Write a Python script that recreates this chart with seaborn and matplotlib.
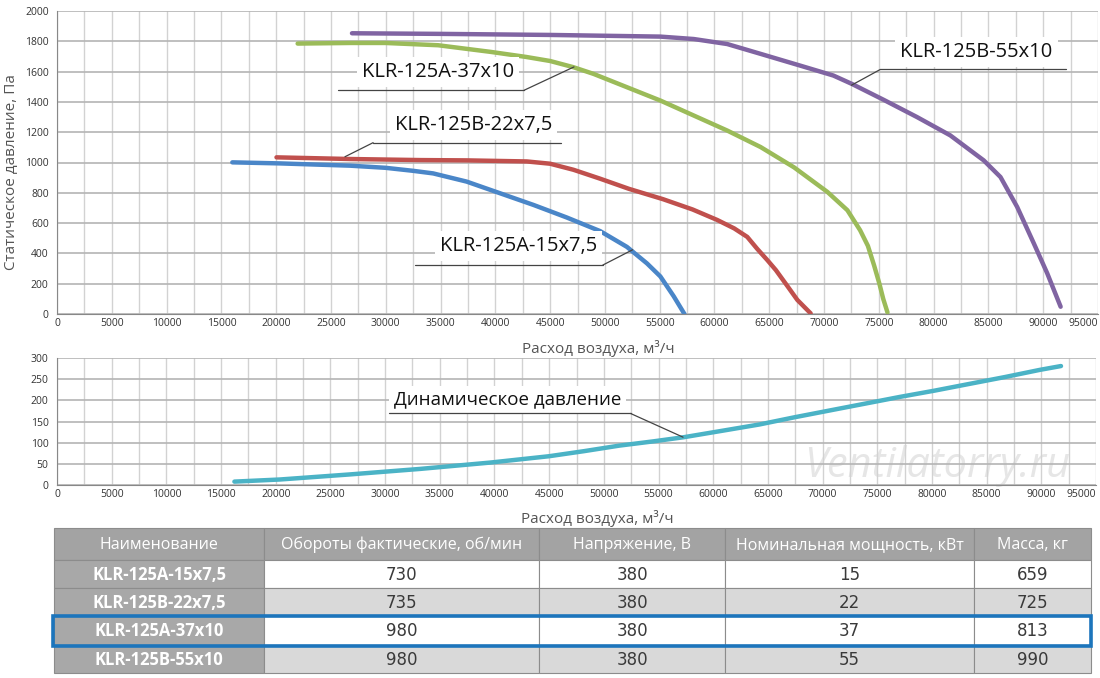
import numpy as np
import pandas as pd
import matplotlib
matplotlib.use("Agg")
import matplotlib.pyplot as plt
from matplotlib.patches import Rectangle
import seaborn as sns

# ---------------- data ----------------
blue_x = [16000, 20350, 26760, 29970, 32500, 34330, 37380, 40430, 43480, 46520, 49570, 52010, 53840, 55060, 56280, 57260]
blue_y = [1001, 994, 979, 965, 945, 928, 874, 797, 720, 637, 547, 443, 334, 248, 117, 0]

red_x = [20030, 26760, 33180, 37380, 42870, 45000, 47130, 49570, 52200, 55300, 58000, 60240, 61800, 62990, 63900, 64820, 65600, 66650, 67560, 68780]
red_y = [1034, 1023, 1016, 1014, 1007, 992, 952, 893, 826, 758, 690, 621, 565, 509, 430, 356, 290, 185, 93, 4]

green_x = [21960, 26760, 29970, 34780, 39590, 42790, 45000, 47130, 48960, 52010, 55060, 58110, 61160, 64210, 67260, 70300, 72130, 73290, 74000, 74570, 75050, 75400, 75790]
green_y = [1785, 1789, 1789, 1774, 1730, 1697, 1670, 1629, 1585, 1497, 1409, 1310, 1211, 1102, 968, 806, 685, 553, 450, 320, 200, 100, 10]

purple_x = [26920, 35000, 45000, 55060, 58110, 61160, 64210, 67800, 70850, 72530, 75430, 78480, 81520, 84570, 86100, 87620, 89150, 90370, 91590]
purple_y = [1853, 1849, 1842, 1831, 1815, 1782, 1717, 1640, 1574, 1519, 1414, 1300, 1179, 1014, 904, 707, 465, 268, 48]

dyn_x = [16220, 20380, 26790, 33200, 39620, 45000, 48200, 51410, 54500, 57340, 61030, 64230, 67440, 70640, 73850, 77050, 80260, 83460, 86670, 89870, 91800]
dyn_y = [8, 13, 25, 38, 53, 68, 80, 93, 103, 113, 129, 143, 160, 176, 192, 208, 223, 239, 255, 272, 281]

series_names = ["KLR-125A-15x7,5", "KLR-125B-22x7,5", "KLR-125A-37x10", "KLR-125B-55x10"]
series_colors = ["#4a86c8", "#c0504d", "#9bbb59", "#8064a2"]

tab_header = ["Наименование", "Обороты фактические, об/мин", "Напряжение, В",
              "Номинальная мощность, кВт", "Масса, кг"]
tab_rpm = ["730", "735", "980", "980"]
tab_volt = ["380", "380", "380", "380"]
tab_power = ["15", "22", "37", "55"]
tab_mass = ["659", "725", "813", "990"]

# ---------------- style ----------------
sns.set_style("white")
plt.rcParams['font.family'] = ['Open Sans', 'DejaVu Sans']
plt.rcParams['lines.solid_joinstyle'] = 'round'
plt.rcParams['lines.solid_capstyle'] = 'round'

fig = plt.figure(figsize=(11, 6.78), dpi=100)

frames = []
for name, xs, ys in zip(series_names, [blue_x, red_x, green_x, purple_x],
                        [blue_y, red_y, green_y, purple_y]):
    frames.append(pd.DataFrame({"q": xs, "p": ys, "model": name}))
df = pd.concat(frames, ignore_index=True)
df_dyn = pd.DataFrame({"q": dyn_x, "p": dyn_y})

def style_axes(ax, ymax, ystep, hgrid_color):
    ax.set_xlim(0, 95000)
    ax.set_ylim(0, ymax)
    ax.set_xticks(np.arange(0, 95001, 5000))
    ax.set_xticks(np.arange(0, 95001, 2500), minor=True)
    ax.set_yticks(np.arange(0, ymax + 1, ystep))
    ax.grid(True, which="major", axis="y", color=hgrid_color, lw=1.2)
    ax.grid(True, which="both", axis="x", color="#d2d2d2", lw=1.0)
    ax.set_axisbelow(True)
    for s in ["top", "right"]:
        ax.spines[s].set_visible(False)
    ax.spines["left"].set_color("#888888")
    ax.spines["bottom"].set_color("#888888")
    ax.tick_params(axis="x", which="both", length=0, labelsize=7.5, pad=3, colors="#333333")
    ax.tick_params(axis="y", length=4, width=0.8, color="#888888", labelsize=7.5, pad=2, colors="#333333")
    labels = ax.get_xticklabels()
    labels[-1].set_horizontalalignment("right")

# ---------- top chart ----------
ax1 = fig.add_axes([57/1100, 1-314/678, 1041/1100, 303/678])
sns.lineplot(data=df, x="q", y="p", hue="model", palette=series_colors,
             hue_order=series_names, lw=3.2, ax=ax1, legend=False, sort=False)
style_axes(ax1, 2000, 200, "#b4b4b4")
ax1.set_xlabel("Расход воздуха, м³/ч", fontsize=11, color="#555555", labelpad=2)
ax1.xaxis.set_label_coords(0.52, -0.085)
ax1.set_ylabel("Статическое давление, Па", fontsize=11, color="#555555", labelpad=4)
ax1.yaxis.label.set_y(0.47)

def callout(ax, text, tx, ty, ux1, ux2, uy, lx0, lx1, ly1, fs=14.5):
    ax.text(tx, ty, text, fontsize=fs, color="#111111", va="center", ha="center",
            bbox=dict(boxstyle="square,pad=0.25", fc="white", ec="none"), zorder=5)
    ax.plot([ux1, ux2], [uy, uy], color="#444444", lw=0.9, zorder=6)
    ax.plot([lx0, lx1], [uy, ly1], color="#444444", lw=0.9, zorder=6)

callout(ax1, "KLR-125A-37x10", 34800, 1598, 25640, 42630, 1477, 42630, 47180, 1631)
callout(ax1, "KLR-125B-22x7,5", 38000, 1247, 28850, 45970, 1131, 28850, 26280, 1038)
callout(ax1, "KLR-125A-15x7,5", 42100, 446, 32690, 49810, 323, 49810, 52530, 424)
callout(ax1, "KLR-125B-55x10", 83900, 1730, 75130, 92120, 1614, 75130, 72500, 1510)

# ---------- bottom chart ----------
ax2 = fig.add_axes([57/1100, 1-485/678, 1039/1100, 127/678])
sns.lineplot(data=df_dyn, x="q", y="p", color="#4bb3c6", lw=3.2, ax=ax2, sort=False)
style_axes(ax2, 300, 50, "#b4b4b4")
ax2.set_xlabel("Расход воздуха, м³/ч", fontsize=11, color="#555555")
ax2.xaxis.set_label_coords(0.52, -0.2)
ax2.set_ylabel("")
callout(ax2, "Динамическое давление", 41200, 202, 30320, 52440, 169, 52440, 57240, 113, fs=13.5)
ax2.text(80500, 45, "Ventilatorry.ru", fontsize=30, style="italic", color="#e6e6e6",
         ha="center", va="center", zorder=0.5)

# ---------- table ----------
axt = fig.add_axes([0, 0, 1, 1])
axt.set_xlim(0, 1100)
axt.set_ylim(678, 0)
axt.axis("off")
col_edges = [54, 264, 539, 725, 974, 1091]
row_edges = [528, 560, 588, 616, 645, 673]
cols = [None, tab_rpm, tab_volt, tab_power, tab_mass]
for c in range(5):
    x0, x1 = col_edges[c], col_edges[c + 1]
    for r in range(5):
        y0, y1 = row_edges[r], row_edges[r + 1]
        if r == 0:
            fc = "#a3a3a3"
            txt, tcol = tab_header[c], "white"
        elif c == 0:
            fc = "#a8a8a8"
            txt, tcol = series_names[r - 1], "white"
        else:
            fc = "white" if r % 2 == 1 else "#d9d9d9"
            txt, tcol = cols[c][r - 1], "#3a3a3a"
        axt.add_patch(Rectangle((x0, y0), x1 - x0, y1 - y0, fc=fc, ec="#8c8c8c", lw=0.8))
        fw = "bold" if (c == 0 and r > 0) else "normal"
        axt.text((x0 + x1) / 2, (y0 + y1) / 2 + 1, txt, ha="center", va="center",
                 fontsize=11.5 if r == 0 else 12, color=tcol, fontweight=fw,
                 fontfamily=['Liberation Sans Narrow', 'DejaVu Sans'] if (r > 0 and c > 0) else ['Open Sans', 'DejaVu Sans'])
axt.add_patch(Rectangle((53, 616), 1038, 30, fc="none", ec="#1c75bc", lw=2.6, zorder=10))

fig.savefig("out.png", dpi=100)
